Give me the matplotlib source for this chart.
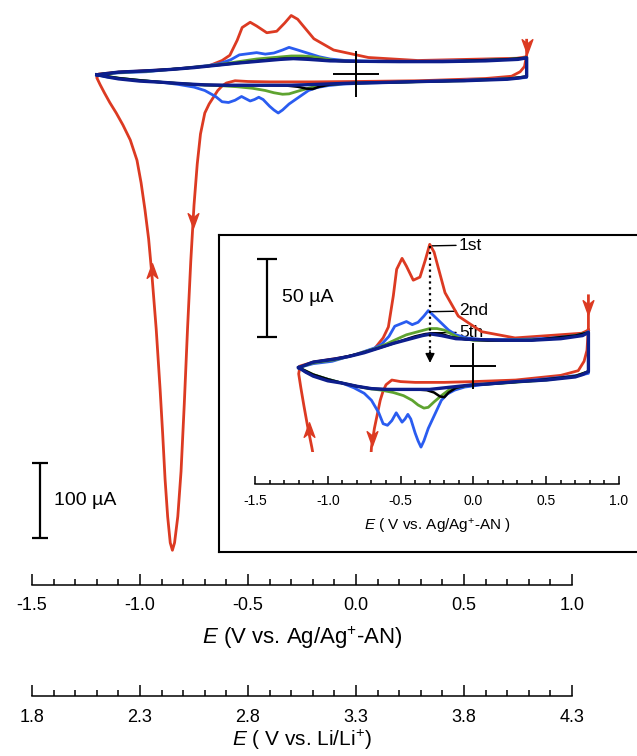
import numpy as np
import matplotlib
matplotlib.use("Agg")
import matplotlib.pyplot as plt
from matplotlib.path import Path

plt.rcParams["font.family"] = ["Liberation Sans", "DejaVu Sans"]
plt.rcParams["mathtext.fontset"] = "custom"
plt.rcParams["mathtext.rm"] = "Liberation Sans"
plt.rcParams["mathtext.it"] = "Liberation Sans:italic"
plt.rcParams["axes.unicode_minus"] = False

# ---- data: E (V vs Ag/Ag+-AN), I (uA), in scan order ----
red_E = [0.79, 0.79, 0.78, 0.76, 0.72, 0.6, 0.29, 0.0, -0.2, -0.4, -0.5, -0.56, -0.6, -0.62,
         -0.64, -0.66, -0.68, -0.7, -0.72, -0.735, -0.75, -0.765, -0.78, -0.795, -0.81,
         -0.825, -0.84, -0.85, -0.86, -0.872, -0.884, -0.895, -0.907, -0.925, -0.944, -0.96,
         -0.977, -0.995, -1.014, -1.045, -1.079, -1.11, -1.14, -1.165, -1.185, -1.2, -1.19,
         -1.1, -0.86, -0.68, -0.62, -0.584, -0.55, -0.527, -0.49, -0.46, -0.413, -0.367,
         -0.33, -0.3, -0.27, -0.25, -0.195, -0.104, 0.057, 0.286, 0.744, 0.79]
red_I = [45, 25, 10, 3, -3, -6, -9, -10, -10.5, -10.5, -10, -9, -12, -16,
         -22, -31, -40, -52, -80, -120, -175, -250, -340, -440, -530,
         -590, -625, -635, -625, -590, -540, -480, -420, -340, -271, -220,
         -181, -145, -115, -88, -68, -52, -38, -25, -14, -5, 0,
         2.5, 6, 11, 18, 25, 45, 62, 69, 64, 55, 57,
         68, 78, 73, 66, 47, 32, 22, 18, 21, 23]

blue_E = [-1.2, -1.1, -0.97, -0.79, -0.68, -0.63, -0.58, -0.54, -0.5, -0.46, -0.42, -0.38,
          -0.34, -0.31, -0.27, -0.22, -0.17, -0.12, -0.05, 0.06, 0.3, 0.51, 0.7, 0.77, 0.79,
          0.79, 0.75, 0.63, 0.3, 0.06, -0.06, -0.13, -0.18, -0.22, -0.26, -0.31, -0.34, -0.36,
          -0.38, -0.4, -0.43, -0.45, -0.47, -0.49, -0.51, -0.53, -0.56, -0.59, -0.62, -0.65,
          -0.7, -0.75, -0.82, -0.9, -1.0, -1.09, -1.15, -1.2]
blue_I = [-1, 1.5, 3, 8, 11.5, 14, 19, 25.5, 27, 28.5, 26.5, 28,
          32, 35.5, 32, 27.5, 23, 20, 18, 17, 17, 17.7, 19.5, 21, 22,
          -4.7, -5.5, -7, -10, -12, -13.5, -15.5, -18, -22, -30, -40, -48, -52,
          -48, -43, -34, -31, -34, -36, -33, -30, -35, -38, -37, -30,
          -22, -17.5, -14, -11, -8.5, -6, -4, -1]

green_E = [-1.2, -1.1, -0.95, -0.8, -0.68, -0.6, -0.52, -0.46, -0.4, -0.34, -0.3, -0.25,
           -0.2, -0.15, -0.1, 0.0, 0.2, 0.5, 0.7, 0.79,
           0.79, 0.7, 0.5, 0.2, 0.0, -0.1, -0.17, -0.22, -0.27, -0.31, -0.34, -0.38, -0.42,
           -0.48, -0.55, -0.63, -0.72, -0.8, -0.9, -1.0, -1.1, -1.2]
green_I = [-1, 2, 4, 7.5, 11, 14, 17.5, 20, 21.5, 23, 24, 24,
           23, 20.5, 18, 16.5, 16.5, 17, 19.5, 21.5,
           -3.5, -6.5, -9, -11, -12, -13.5, -15.5, -19, -23, -26.5, -27, -25, -22,
           -19, -17, -15.5, -14.5, -13, -11, -8.5, -5.5, -1]

black_E = [-1.2, -1.1, -0.95, -0.8, -0.65, -0.5, -0.4, -0.33, -0.28, -0.22, -0.15, -0.05,
           0.1, 0.4, 0.7, 0.79,
           0.79, 0.7, 0.4, 0.1, -0.05, -0.12, -0.17, -0.2, -0.23, -0.27, -0.32, -0.4, -0.5,
           -0.6, -0.7, -0.8, -0.9, -1.0, -1.1, -1.2]
black_I = [-1, 2.5, 4.5, 7.5, 11.5, 16, 19, 20.5, 21, 20.5, 18.5, 17,
           16.3, 16.5, 19.5, 21.5,
           -3.5, -6.5, -9.5, -11.5, -12.5, -14, -17, -20, -19.5, -17, -15.5, -15, -15,
           -15, -14.5, -13, -11, -8.5, -5.5, -1]

navy_E = [-1.2, -1.1, -0.95, -0.85, -0.75, -0.65, -0.55, -0.45, -0.35, -0.29, -0.22, -0.12,
          0.0, 0.2, 0.4, 0.6, 0.75, 0.79,
          0.79, 0.75, 0.7, 0.5, 0.3, 0.1, 0.0, -0.1, -0.2, -0.3, -0.4, -0.5, -0.6, -0.7,
          -0.8, -0.9, -1.0, -1.1, -1.15, -1.2]
navy_I = [-1, 2.5, 4.5, 6.2, 8.5, 11.5, 14.5, 17, 19.5, 20.5, 19.5, 17.5,
          17, 16.5, 16.5, 17.5, 19.5, 21.5,
          -3.5, -5.5, -7, -9, -10, -11.5, -12, -13, -14, -15, -15, -15, -15, -14.5,
          -13, -11, -9.5, -6.5, -4, -1]

# scan-direction arrows on the 1st cycle (E, I, direction)
main_arrows = [(-0.755, -192, "down"), (-0.944, -265, "up"), (0.79, 40, "down")]
inset_arrows = [(-0.693, -45, "down"), (-1.13, -42, "up"), (0.79, 39, "down")]

cycle_labels = ["1st", "2nd", "5th"]
cycle_peaks = [77, 34.8, 21.2]

main_ticks = [-1.5, -1.0, -0.5, 0.0, 0.5, 1.0]
li_ticks = [1.8, 2.3, 2.8, 3.3, 3.8, 4.3]

RED = "#dc3a22"
BLUE = "#2a5cf0"
GREEN = "#5ea330"
NAVY = "#0d1e8c"

W, H = 637, 756
fig = plt.figure(figsize=(W / 100, H / 100), dpi=100)


def px_axes(x0, y0, x1, y1):
    return fig.add_axes([x0 / W, 1 - y1 / H, (x1 - x0) / W, (y1 - y0) / H])


def data_axes(box, e0, es, i0, isc):
    # box in pixels; e0/es: pixel of E=0 and px per V; i0/isc: pixel of I=0 and px per uA
    ax = px_axes(*box)
    ax.set_xlim((box[0] - e0) / es, (box[2] - e0) / es)
    ax.set_ylim((i0 - box[3]) / isc, (i0 - box[1]) / isc)
    ax.axis("off")
    return ax


verts_down = [(0, -1), (-0.55, 0.5), (0, 0.05), (0.55, 0.5), (0, -1)]
arrow_down = Path(verts_down, [Path.MOVETO, Path.LINETO, Path.LINETO, Path.LINETO, Path.CLOSEPOLY])
arrow_up = Path([(x, -y) for x, y in verts_down], arrow_down.codes)


def draw_cycles(ax, arrows):
    ax.plot(red_E, red_I, color=RED, lw=2.0, zorder=3)
    ax.plot(blue_E, blue_I, color=BLUE, lw=2.0, zorder=4)
    ax.plot(green_E, green_I, color=GREEN, lw=2.0, zorder=5)
    ax.plot(black_E, black_I, color="black", lw=1.8, zorder=6)
    ax.plot(navy_E, navy_I, color=NAVY, lw=2.4, zorder=7)
    for e, i, d in arrows:
        ax.plot(e, i, marker=arrow_down if d == "down" else arrow_up, ms=14,
                color=RED, mec=RED, zorder=8)
    ax.plot(0, 0, marker="+", ms=33, mew=1.4, color="black", zorder=9)


def tick_axis(box, lim, ticks, label, fs, lfs, major_len, minor_len, pad, labelpad):
    ax = px_axes(*box)
    ax.set_xlim(*lim)
    for s in ["top", "left", "right"]:
        ax.spines[s].set_visible(False)
    ax.spines["bottom"].set_linewidth(1.1)
    ax.set_yticks([])
    ax.set_xticks(ticks)
    ax.set_xticklabels(["%.1f" % t for t in ticks], fontsize=fs)
    ax.set_xticks(np.arange(lim[0], lim[1] + 0.001, 0.1), minor=True)
    ax.tick_params(axis="x", which="major", direction="in", length=major_len, width=1.1, pad=pad)
    ax.tick_params(axis="x", which="minor", direction="in", length=minor_len, width=1.1)
    ax.patch.set_alpha(0)
    ax.set_xlabel(label, fontsize=lfs, labelpad=labelpad)
    return ax


# ---- main panel ----
ax = data_axes((0, 0, W, 560), 356, 216, 74, 0.75)
draw_cycles(ax, main_arrows)
ax.errorbar(-1.463, -569, yerr=50, color="black", lw=1.6, capsize=5.5, capthick=1.6)
ax.annotate("100 µA", xy=(-1.463, -569), xytext=(10, 0), textcoords="offset points",
            fontsize=14, ha="left", va="center")

tick_axis((32, 560, 572, 585), (-1.5, 1.0), main_ticks,
          r"$\mathit{E}$ (V vs. Ag/Ag$^{+}$-AN)", 13, 16, 8, 4.3, 9, 7)
tick_axis((32, 670, 572, 696), (1.8, 4.3), li_ticks,
          r"$\mathit{E}$ ( V vs. Li/Li$^{+}$)", 13, 15, 8, 4.3, 9, 2)

# ---- inset ----
frame = px_axes(219, 235, 642, 552)
frame.set_xticks([])
frame.set_yticks([])
for s in frame.spines.values():
    s.set_linewidth(1.5)
frame.set_zorder(1)

ins = data_axes((221, 237, 636, 452), 473.4, 145.6, 366, 1.56)
ins.set_zorder(3)
draw_cycles(ins, inset_arrows)
ins.errorbar(-1.418, 43.6, yerr=25, color="black", lw=1.6, capsize=7, capthick=1.6)
ins.annotate("50 µA", xy=(-1.418, 43.6), xytext=(11, 0), textcoords="offset points",
             fontsize=14, ha="left", va="center")
for lab, pk in zip(cycle_labels, cycle_peaks):
    ins.annotate(lab, xy=(-0.298, pk), xytext=(-0.1, pk + 0.5), fontsize=12.5,
                 ha="left", va="center", zorder=2,
                 arrowprops=dict(arrowstyle="-", lw=1.0, color="black", shrinkA=0, shrinkB=0))
ins.plot([-0.298, -0.298], [77, 8], ls=":", lw=1.6, color="black", zorder=10)
ins.annotate("", xy=(-0.298, 2), xytext=(-0.298, 10),
             arrowprops=dict(arrowstyle="-|>", lw=1.0, color="black", mutation_scale=14,
                             shrinkA=0, shrinkB=0), zorder=10)

ix = tick_axis((255, 470, 619, 484), (-1.5, 1.0), main_ticks,
               r"$\mathit{E}$ ( V vs. Ag/Ag$^{+}$-AN )", 10, 11, 5.5, 3, 7, 7)
ix.set_zorder(4)

fig.savefig("out.png", dpi=100)
